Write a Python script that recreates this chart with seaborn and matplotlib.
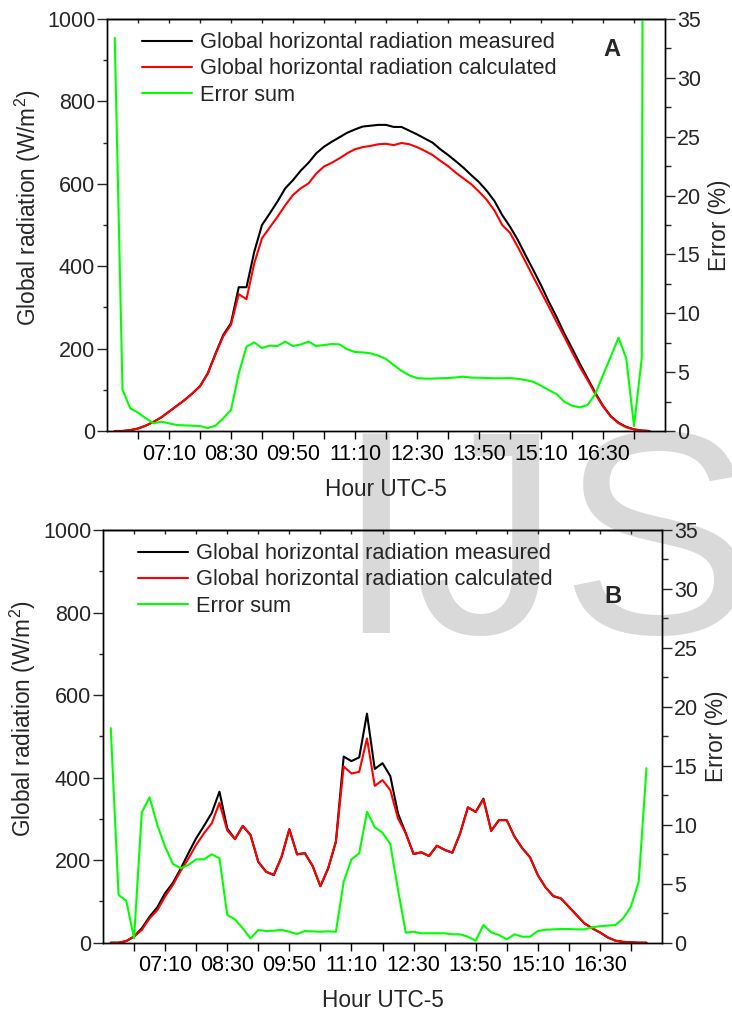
import matplotlib
matplotlib.use("Agg")
import matplotlib.pyplot as plt
from matplotlib.ticker import FixedLocator, FuncFormatter, MultipleLocator, NullFormatter
import pandas as pd
import seaborn as sns

# Sampling instants, every 10 minutes (local time, UTC-5)
times = [t.strftime("%H:%M") for t in pd.date_range("06:00", "17:30", freq="10min")]

# Day A: clear day
a_measured = [0, 0, 2, 6, 13, 22, 33, 47, 61, 75, 91, 109, 140, 188, 233, 262, 349, 349,
              435, 500, 528, 557, 589, 609, 632, 651, 674, 690, 702, 713, 724, 732, 739, 741,
              743, 743, 738, 738, 729, 720, 710, 700, 684, 670, 655, 639, 621, 604, 583, 558,
              524, 496, 464, 427, 391, 354, 314, 277, 237, 201, 164, 128, 93, 61, 36, 20, 10,
              4, 1, 0]
a_calculated = [0, 0, 2, 6, 13, 22, 33, 47, 61, 75, 91, 108, 139, 186, 230, 258, 332, 320,
                407, 468, 494, 520, 548, 573, 589, 601, 625, 642, 651, 662, 674, 684, 689, 692,
                696, 697, 694, 699, 696, 689, 680, 670, 656, 643, 627, 613, 599, 581, 561, 535,
                500, 481, 447, 411, 374, 338, 302, 265, 229, 192, 156, 124, 90, 60, 35, 19, 9,
                4, 1, 0]
a_error = [33.4, 3.5, 1.93, 1.56, 1.08, 0.65, 0.79, 0.65, 0.51, 0.48, 0.45, 0.42, 0.25, 0.45,
           1.08, 1.78, 4.9, 7.16, 7.53, 7.05, 7.25, 7.22, 7.59, 7.22, 7.35, 7.59, 7.22, 7.3,
           7.39, 7.36, 6.94, 6.71, 6.68, 6.6, 6.4, 6.12, 5.6, 5.12, 4.73, 4.5, 4.45, 4.45, 4.48,
           4.5, 4.55, 4.62, 4.53, 4.53, 4.5, 4.48, 4.48, 4.5, 4.43, 4.33, 4.19, 3.85, 3.48, 3.14,
           2.49, 2.15, 2.01, 2.2, 3.14, 4.76, 6.31, 7.93, 6.17, 0.42, 6.17, 320.0]

# Day B: cloudy day
b_measured = [0, 0, 4, 15, 35, 63, 86, 120, 145, 179, 217, 253, 283, 314, 366, 277, 251, 283,
              261, 196, 172, 164, 208, 275, 214, 217, 186, 137, 180, 245, 451, 440, 449, 555,
              421, 435, 404, 313, 265, 215, 219, 210, 235, 225, 218, 265, 328, 317, 349, 271,
              297, 297, 257, 229, 207, 164, 134, 113, 107, 87, 67, 47, 35, 25, 13, 5, 2, 1, 0, 0]
b_calculated = [0, 0, 4, 15, 31, 59, 79, 112, 140, 174, 204, 237, 265, 289, 339, 272, 251, 283,
                261, 196, 172, 164, 208, 275, 214, 217, 186, 137, 180, 245, 427, 410, 414, 495,
                380, 394, 370, 301, 265, 215, 219, 210, 235, 225, 218, 265, 328, 317, 347, 271,
                297, 297, 257, 229, 207, 164, 134, 113, 107, 87, 67, 47, 35, 25, 13, 5, 2, 1, 0, 0]
b_error = [18.2, 4.05, 3.56, 0.37, 11.06, 12.33, 9.98, 8.14, 6.68, 6.31, 6.6, 7.07, 7.07, 7.5,
           7.16, 2.35, 1.98, 1.22, 0.37, 1.08, 0.99, 1.02, 1.08, 0.93, 0.74, 0.99, 0.96, 0.93,
           0.96, 0.93, 5.17, 7.07, 7.58, 11.1, 9.79, 9.33, 8.37, 4.47, 0.85, 0.93, 0.8, 0.8, 0.8,
           0.8, 0.71, 0.71, 0.51, 0.17, 1.5, 0.88, 0.65, 0.29, 0.71, 0.51, 0.51, 0.99, 1.1, 1.13,
           1.16, 1.16, 1.13, 1.13, 1.3, 1.4, 1.45, 1.5, 2.07, 3.06, 5.17, 14.8]

tick_labels = ["07:10", "08:30", "09:50", "11:10", "12:30", "13:50", "15:10", "16:30"]
x_range = ["05:50", "17:50"]

series_names = ["Global horizontal radiation measured",
                "Global horizontal radiation calculated",
                "Error sum"]


def to_minutes(s):
    h, m = s.split(":")
    return int(h) * 60 + int(m)


def fmt_time(v, pos=None):
    v = int(round(v))
    return f"{v // 60:02d}:{v % 60:02d}"


sns.set_style("ticks")
plt.rcParams["font.family"] = ["Liberation Sans", "DejaVu Sans"]
plt.rcParams["axes.linewidth"] = 1.0
plt.rcParams["mathtext.fontset"] = "custom"
plt.rcParams["mathtext.rm"] = "Liberation Sans"
plt.rcParams["mathtext.it"] = "Liberation Sans:italic"
plt.rcParams["mathtext.bf"] = "Liberation Sans:bold"
plt.rcParams["mathtext.default"] = "regular"

TICK_FS = 15.5
LEGEND_FS = 15.7
LABEL_FS = 16.3
GREEN = "#00ff00"
LW = 1.5

fig = plt.figure(figsize=(7.32, 10.11), dpi=100)
fig.patch.set_facecolor("white")

# Publisher watermark behind both panels
fig.text(335 / 732, 1 - 633 / 1011, "IJS", fontsize=209, color="#d9d9d9",
         ha="left", va="baseline", zorder=-5, family=["Liberation Sans"])

ax_a = fig.add_axes([107 / 732, 1 - 431 / 1011, 558 / 732, 412 / 1011])
ax_b = fig.add_axes([103 / 732, 1 - 942.7 / 1011, 559 / 732, 412.7 / 1011])

minutes = [to_minutes(t) for t in times]
major_ticks = [to_minutes(t) for t in tick_labels]
x0, x1 = [to_minutes(t) for t in x_range]
minor_ticks = sorted({t - 40 for t in major_ticks} | {t + 40 for t in major_ticks})


def draw_panel(ax, measured, calculated, error, letter, letter_pos, legend_anchor,
               ylabel_x, ylabel_y):
    df = pd.DataFrame({"t": minutes, "measured": measured,
                       "calculated": calculated, "error": error})
    ax.patch.set_visible(False)
    sns.lineplot(data=df, x="t", y="measured", ax=ax, color="black", lw=LW,
                 label=series_names[0], legend=False)
    sns.lineplot(data=df, x="t", y="calculated", ax=ax, color="red", lw=LW,
                 label=series_names[1], legend=False)
    ax2 = ax.twinx()
    ax2.patch.set_visible(False)
    sns.lineplot(data=df, x="t", y="error", ax=ax2, color=GREEN, lw=LW,
                 label=series_names[2], legend=False)

    ax.set_xlim(x0, x1)
    ax.set_ylim(0, 1000)
    ax2.set_ylim(0, 35)

    ax.xaxis.set_major_locator(FixedLocator(major_ticks))
    ax.xaxis.set_minor_locator(FixedLocator(minor_ticks))
    ax.xaxis.set_major_formatter(FuncFormatter(fmt_time))
    ax.yaxis.set_major_locator(MultipleLocator(200))
    ax.yaxis.set_minor_locator(MultipleLocator(100))
    ax2.yaxis.set_major_locator(MultipleLocator(5))
    ax2.yaxis.set_minor_locator(MultipleLocator(2.5))
    ax2.tick_params(axis="x", which="both", bottom=False, top=False,
                    labelbottom=False, labeltop=False)

    ax.tick_params(axis="x", which="both", direction="out", length=6, width=1,
                   labelsize=TICK_FS, pad=3, colors="black")
    ax.tick_params(axis="y", which="major", direction="out", length=7, width=1,
                   labelsize=TICK_FS, pad=1.5)
    ax.tick_params(axis="y", which="minor", direction="out", length=3, width=1)
    ax2.tick_params(axis="y", which="major", direction="out", length=7, width=1,
                    labelsize=TICK_FS, pad=1.5)
    ax2.tick_params(axis="y", which="minor", direction="out", length=4, width=1)

    # short inward ticks along the top edge
    top = ax.secondary_xaxis("top")
    top.xaxis.set_major_locator(FixedLocator(major_ticks))
    top.xaxis.set_minor_locator(FixedLocator(minor_ticks))
    top.xaxis.set_major_formatter(NullFormatter())
    top.tick_params(axis="x", which="both", direction="in", length=3, width=1,
                    labeltop=False, labelbottom=False)

    for sp in list(ax.spines.values()) + list(ax2.spines.values()):
        sp.set_color("black")
        sp.set_linewidth(1.0)

    ax.set_xlabel("Hour UTC-5", fontsize=LABEL_FS, labelpad=9.5)
    ax.set_ylabel("Global radiation (W/m$^2$)", fontsize=LABEL_FS)
    ax.yaxis.set_label_coords(ylabel_x, ylabel_y)
    ax2.set_ylabel("Error (%)", fontsize=LABEL_FS)
    ax2.yaxis.set_label_coords(1.077, 0.5)

    handles = ax.get_lines()[:2] + ax2.get_lines()[:1]
    ax2.legend(handles, series_names, loc="upper left", bbox_to_anchor=legend_anchor,
               frameon=False, fontsize=LEGEND_FS, handlelength=2.3, handletextpad=0.35,
               labelspacing=0.24, borderpad=0, borderaxespad=0)
    ax2.text(letter_pos[0], letter_pos[1], letter, transform=ax2.transAxes,
             fontsize=17, fontweight="bold", ha="center", va="center")


draw_panel(ax_a, a_measured, a_calculated, a_error, "A", (0.905, 0.925), (0.063, 0.968),
           -0.1155, 0.542)
draw_panel(ax_b, b_measured, b_calculated, b_error, "B", (0.912, 0.84), (0.063, 0.968),
           -0.117, 0.542)

fig.savefig("out.png", dpi=100)
